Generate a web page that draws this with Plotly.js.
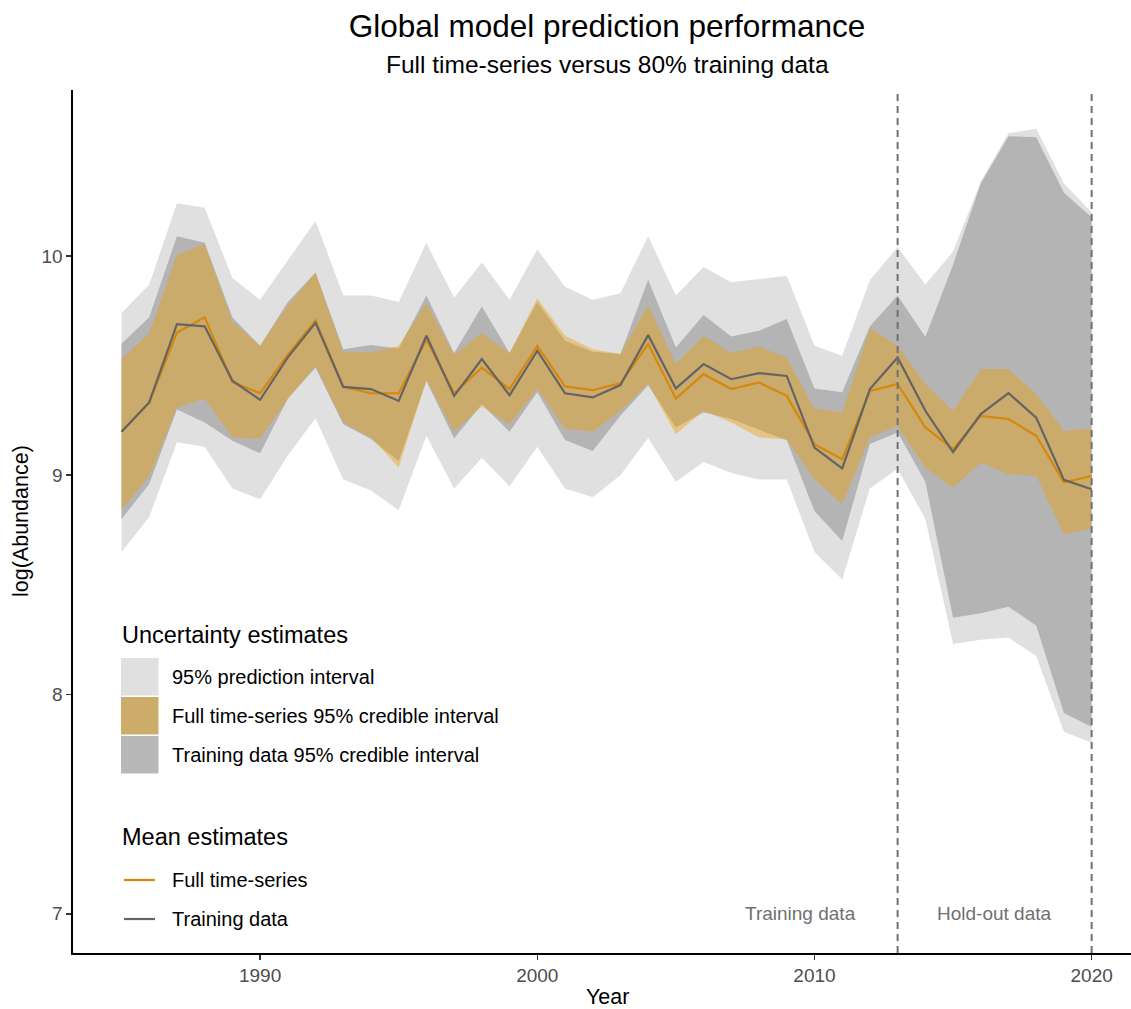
<!DOCTYPE html>
<html>
<head>
<meta charset="utf-8">
<script src="https://cdn.plot.ly/plotly-3.0.1.min.js"></script>
<style>
  html, body { margin: 0; padding: 0; background: #ffffff; }
  #chart { width: 1131px; height: 1009px; }
</style>
</head>
<body>
<div id="chart"></div>
<script>
// ---- Data ----
const years = [1985,1986,1987,1988,1989,1990,1991,1992,1993,1994,1995,1996,1997,1998,1999,
               2000,2001,2002,2003,2004,2005,2006,2007,2008,2009,2010,2011,2012,2013,2014,
               2015,2016,2017,2018,2019,2020];

// 95% prediction interval
const predUpper = [9.74,9.87,10.24,10.22,9.90,9.80,9.98,10.16,9.82,9.82,9.79,10.06,9.81,9.97,9.80,
                   10.03,9.86,9.80,9.83,10.09,9.82,9.95,9.88,9.895,9.91,9.59,9.545,9.89,10.04,9.87,
                   10.02,10.34,10.56,10.58,10.33,10.20];
const predLower = [8.65,8.81,9.15,9.13,8.94,8.89,9.09,9.26,8.98,8.93,8.84,9.18,8.94,9.08,8.95,
                   9.13,8.94,8.90,9.00,9.17,8.97,9.06,9.01,8.98,8.98,8.65,8.525,8.94,9.03,8.80,
                   8.23,8.25,8.26,8.175,7.83,7.78];

// Training data 95% credible interval
const trainUpper = [9.60,9.72,10.09,10.06,9.72,9.59,9.79,9.925,9.575,9.594,9.578,9.82,9.557,9.77,9.557,
                    9.79,9.613,9.563,9.553,9.892,9.583,9.731,9.633,9.659,9.712,9.396,9.378,9.68,9.82,9.63,
                    9.96,10.33,10.546,10.542,10.288,10.177];
const trainLower = [8.80,8.96,9.30,9.24,9.157,9.10,9.35,9.49,9.233,9.165,9.065,9.43,9.167,9.324,9.198,
                    9.378,9.161,9.111,9.271,9.41,9.218,9.287,9.256,9.207,9.16,8.837,8.70,9.142,9.195,8.97,
                    8.35,8.37,8.40,8.315,7.916,7.852];

// Full time-series 95% credible interval
const fullUpper = [9.53,9.648,10.005,10.055,9.70,9.59,9.775,9.925,9.563,9.56,9.59,9.785,9.55,9.648,9.557,
                   9.807,9.636,9.575,9.553,9.776,9.507,9.636,9.557,9.587,9.537,9.304,9.286,9.67,9.59,9.416,
                   9.294,9.484,9.484,9.37,9.203,9.213];
const fullLower = [8.842,8.997,9.309,9.35,9.172,9.167,9.347,9.499,9.24,9.172,9.035,9.435,9.198,9.313,9.233,
                   9.393,9.213,9.198,9.294,9.416,9.187,9.294,9.24,9.172,9.164,8.982,8.868,9.172,9.225,9.035,
                   8.943,9.058,9.005,8.997,8.731,8.756];

// Mean estimates
const fullMean = [9.198,9.332,9.651,9.72,9.425,9.374,9.55,9.705,9.403,9.374,9.374,9.618,9.374,9.491,9.393,
                  9.59,9.405,9.388,9.419,9.598,9.35,9.461,9.393,9.423,9.362,9.142,9.073,9.385,9.416,9.218,
                  9.119,9.271,9.256,9.18,8.967,8.997];
const trainMean = [9.198,9.332,9.689,9.679,9.431,9.344,9.538,9.695,9.403,9.393,9.339,9.636,9.362,9.53,9.365,
                   9.568,9.374,9.355,9.411,9.639,9.396,9.507,9.438,9.466,9.453,9.126,9.031,9.393,9.537,9.294,
                   9.106,9.279,9.374,9.263,8.979,8.936];

const splitYears = [2013, 2020];
const regionLabels = ["Training data", "Hold-out data"];
const regionLabelX = [2009.5, 2016.5];
const xTicks = [1990, 2000, 2010, 2020];
const yTicks = [7, 8, 9, 10];

const uncertaintyLabels = ["95% prediction interval", "Full time-series 95% credible interval", "Training data 95% credible interval"];
const meanLabels = ["Full time-series", "Training data"];

// ---- Styles ----
const COL_PRED = "#e0e0e0";
const COL_TRAIN = "#b4b4b4";
const COL_FULL = "rgba(238,157,0,0.40)";
const COL_FULL_KEY = "#cdab6b";
const COL_TRAIN_KEY = "#b8b8b8";
const LINE_FULL = "#d4880c";
const LINE_TRAIN = "#646464";
const FONT = "Liberation Sans, Arial, Helvetica, sans-serif";

function band(upper, lower, color, name) {
  return {
    type: "scatter", mode: "lines", name: name,
    x: years.concat(years.slice().reverse()),
    y: upper.concat(lower.slice().reverse()),
    fill: "toself", fillcolor: color,
    line: { width: 0, color: color },
    hoverinfo: "skip", showlegend: false
  };
}

const traces = [
  band(predUpper, predLower, COL_PRED, uncertaintyLabels[0]),
  band(trainUpper, trainLower, COL_TRAIN, uncertaintyLabels[2]),
  band(fullUpper, fullLower, COL_FULL, uncertaintyLabels[1]),
  { type: "scatter", mode: "lines", name: meanLabels[0], x: years, y: fullMean,
    line: { color: LINE_FULL, width: 2.2 }, showlegend: false },
  { type: "scatter", mode: "lines", name: meanLabels[1], x: years, y: trainMean,
    line: { color: LINE_TRAIN, width: 2.2 }, showlegend: false }
];

// pixel -> paper helpers for the hand-drawn legend
const L = 73, R = 1131, T = 90, B = 953;
const px = p => (p - L) / (R - L);
const py = p => (B - p) / (B - T);

const shapes = [];
splitYears.forEach(yr => shapes.push({
  type: "line", xref: "x", yref: "paper", x0: yr, x1: yr, y0: 0, y1: 1,
  line: { color: "#707070", width: 2, dash: "7px,5px" }, layer: "above"
}));

// legend swatches
const keyCols = [COL_PRED, COL_FULL_KEY, COL_TRAIN_KEY];
const keyTops = [658, 697, 736];
keyCols.forEach((c, i) => shapes.push({
  type: "rect", xref: "paper", yref: "paper",
  x0: px(121), x1: px(158.5), y0: py(keyTops[i] + 37.5), y1: py(keyTops[i]),
  fillcolor: c, line: { width: 0 }, layer: "above"
}));
const lineKeyY = [880, 919];
[LINE_FULL, LINE_TRAIN].forEach((c, i) => shapes.push({
  type: "line", xref: "paper", yref: "paper",
  x0: px(124), x1: px(155), y0: py(lineKeyY[i]), y1: py(lineKeyY[i]),
  line: { color: c, width: 2.2 }, layer: "above"
}));

const annotations = [];
regionLabels.forEach((t, i) => annotations.push({
  text: t, x: regionLabelX[i], y: 7, xref: "x", yref: "y",
  showarrow: false, xanchor: "center", yanchor: "middle",
  font: { family: FONT, size: 19, color: "#707070" }
}));
annotations.push({
  text: "Full time-series versus 80% training data", xref: "paper", yref: "paper",
  x: px(607), y: py(64), showarrow: false, xanchor: "center", yanchor: "middle",
  font: { family: FONT, size: 24.5, color: "#000000" }
});
annotations.push({
  text: "Year", xref: "paper", yref: "paper", x: px(607), y: py(997),
  showarrow: false, xanchor: "center", yanchor: "middle",
  font: { family: FONT, size: 21.5, color: "#000000" }
});
annotations.push({
  text: "log(Abundance)", xref: "paper", yref: "paper", x: px(21), y: py(521),
  showarrow: false, xanchor: "center", yanchor: "middle", textangle: -90,
  font: { family: FONT, size: 21.5, color: "#000000" }
});
annotations.push({
  text: "Uncertainty estimates", xref: "paper", yref: "paper", x: px(120), y: py(635),
  showarrow: false, xanchor: "left", yanchor: "middle",
  font: { family: FONT, size: 23.5, color: "#000000" }
});
uncertaintyLabels.forEach((t, i) => annotations.push({
  text: t, xref: "paper", yref: "paper", x: px(170), y: py(keyTops[i] + 19),
  showarrow: false, xanchor: "left", yanchor: "middle",
  font: { family: FONT, size: 20, color: "#000000" }
}));
annotations.push({
  text: "Mean estimates", xref: "paper", yref: "paper", x: px(120), y: py(837),
  showarrow: false, xanchor: "left", yanchor: "middle",
  font: { family: FONT, size: 23.5, color: "#000000" }
});
meanLabels.forEach((t, i) => annotations.push({
  text: t, xref: "paper", yref: "paper", x: px(170), y: py(lineKeyY[i]),
  showarrow: false, xanchor: "left", yanchor: "middle",
  font: { family: FONT, size: 20, color: "#000000" }
}));

const layout = {
  width: 1131, height: 1009,
  paper_bgcolor: "#ffffff", plot_bgcolor: "#ffffff",
  margin: { l: L, r: 1131 - R, t: T, b: 1009 - B, pad: 0 },
  font: { family: FONT },
  title: {
    text: "Global model prediction performance",
    xref: "paper", x: px(607), xanchor: "center",
    yref: "container", y: 1 - 26 / 1009, yanchor: "middle",
    font: { family: FONT, size: 31.5, color: "#000000" }
  },
  showlegend: false,
  xaxis: {
    range: [1983.25, 2021.42], tickvals: xTicks, ticktext: xTicks.map(String),
    showgrid: false, zeroline: false,
    showline: true, linecolor: "#000000", linewidth: 1.6,
    ticks: "outside", ticklen: 5, tickwidth: 1.5, tickcolor: "#333333",
    tickfont: { family: FONT, size: 19, color: "#4d4d4d" }
  },
  yaxis: {
    range: [6.821, 10.757], tickvals: yTicks, ticktext: yTicks.map(String),
    showgrid: false, zeroline: false,
    showline: true, linecolor: "#000000", linewidth: 1.6,
    ticks: "outside", ticklen: 5, tickwidth: 1.5, tickcolor: "#333333",
    tickfont: { family: FONT, size: 19, color: "#4d4d4d" }
  },
  shapes: shapes,
  annotations: annotations
};

Plotly.newPlot("chart", traces, layout, { staticPlot: true, displayModeBar: false });
</script>
</body>
</html>
